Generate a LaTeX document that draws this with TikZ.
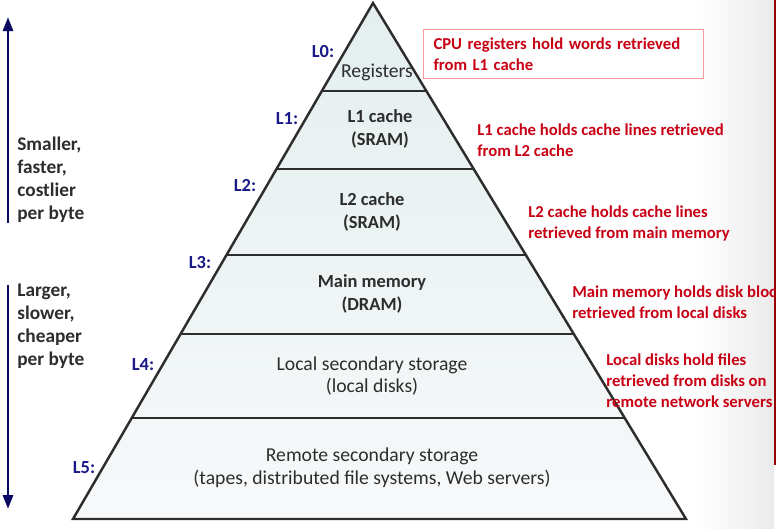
\documentclass[tikz,border=0pt]{standalone}
\usepackage{fontspec}
\setmainfont{Carlito}
\usetikzlibrary{positioning,calc,arrows.meta}
\definecolor{pyrtop}{RGB}{228,238,238}
\definecolor{pyrbot}{RGB}{247,249,250}
\definecolor{lvlblue}{RGB}{25,25,135}
\definecolor{notered}{RGB}{200,0,20}
\definecolor{navyline}{RGB}{10,10,100}
\definecolor{inkgray}{RGB}{45,45,45}

\begin{document}
\begin{tikzpicture}[x=0.02cm,y=-0.02cm,
    layer/.style={align=center,text=inkgray,font=\fontsize{11.2}{13}\selectfont},
    lvl/.style={text=lvlblue,font=\bfseries\fontsize{10.5}{12}\selectfont},
    note/.style={align=left,anchor=north west,inner sep=0pt,text=notered,font=\bfseries\fontsize{9.5}{12}\selectfont},
    side/.style={align=left,anchor=north west,inner sep=0pt,text=inkgray,font=\bfseries\fontsize{11}{13}\selectfont},
    sidearrow/.style={navyline,line width=1.6pt,-{Triangle[width=0.2cm,length=0.28cm]}}]
    \useasboundingbox (0,0) rectangle (776,528);
    \shade[left color=white,right color=black!8] (695,0) rectangle (774,528);
    \draw[red!60!black,line width=0.9pt] (775,0) -- (775,465);
    \coordinate (top) at (373,3);
    \coordinate (bl) at (73,519);
    \coordinate (br) at (686,519);
    \shade[top color=pyrtop,bottom color=pyrbot] (top) -- (br) -- (bl) -- cycle;
    \foreach \y in {91,169,255,334,418} {
      \pgfmathsetmacro\t{(\y-3)/516}
      \draw[inkgray,line width=1.3pt] ($(top)!\t!(bl)$) -- ($(top)!\t!(br)$);
    }
    \draw[inkgray,line width=1.4pt] (top) -- (br) -- (bl) -- cycle;

    \node[layer] (reg) at (377,72) {Registers};
    \node[layer,font=\bfseries\fontsize{10.5}{13}\selectfont] (cacheA) at (380,129) {L1 cache\\(SRAM)};
    \node[layer,font=\bfseries\fontsize{10.5}{13}\selectfont] (cacheB) at (372,212) {L2 cache\\(SRAM)};
    \node[layer,font=\bfseries\fontsize{10.5}{13}\selectfont] (mem) at (372,294) {Main memory\\(DRAM)};
    \node[layer] (local) at (372,376) {Local secondary storage\\(local disks)};
    \node[layer] (remote) at (372,468) {Remote secondary storage\\(tapes, distributed file systems, Web servers)};

    \node[lvl] (L0) at (323,52) {L0:};
    \node[lvl] (L1) at (287,119) {L1:};
    \node[lvl] (L2) at (245,186) {L2:};
    \node[lvl] (L3) at (200,263) {L3:};
    \node[lvl] (L4) at (143,365) {L4:};
    \node[lvl] (L5) at (84,468) {L5:};

    \node[note,draw=red!40,line width=0.6pt,inner xsep=0.2cm,text width=5.2cm,minimum height=0.98cm] (regnote) at (423,29) {CPU registers hold words retrieved\\from L1 cache};
    \node[note] (l1note) at (477,123) {L1 cache holds cache lines retrieved\\from L2 cache};
    \node[note] (l2note) at (528,205) {L2 cache holds cache lines\\retrieved from main memory};
    \node[note] (memnote) at (572,285) {Main memory holds disk blocks\\retrieved from local disks};
    \node[note] (localnote) at (606,353) {Local disks hold files\\retrieved from disks on\\remote network servers};

    \coordinate (upfrom) at (8,223);
    \coordinate (upto) at (8,17);
    \coordinate (downfrom) at (8,285);
    \coordinate (downto) at (8,509);
    \draw[sidearrow] (upfrom) -- (upto);
    \draw[sidearrow] (downfrom) -- (downto);
    \node[side] (small) at (17,137) {Smaller,\\faster,\\costlier\\per byte};
    \node[side] (large) at (17,284) {Larger,\\slower,\\cheaper\\per byte};
\end{tikzpicture}
\end{document}
